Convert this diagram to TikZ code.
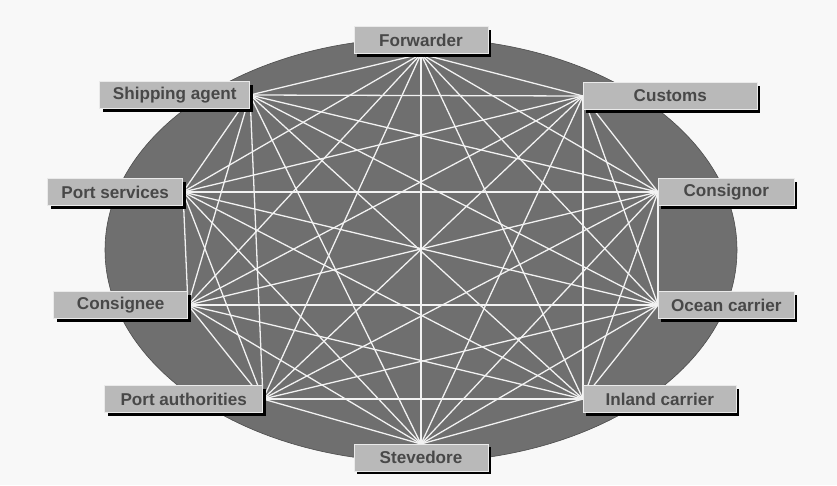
\documentclass[tikz,border=0pt]{standalone}
\usepackage{fontspec}
\setsansfont{Liberation Sans}
\usetikzlibrary{positioning,shadows}
\definecolor{bgpaper}{HTML}{F8F8F8}
\definecolor{ovalgray}{HTML}{6F6F6F}
\definecolor{boxgray}{HTML}{B9B9B9}
\definecolor{labelgray}{HTML}{484848}

\begin{document}
\begin{tikzpicture}[x=0.3mm,y=-0.3mm,
  party/.style={draw=white!70!boxgray, line width=0.5pt, fill=boxgray, text=labelgray,
    font=\sffamily\bfseries\fontsize{14.6}{16}\selectfont, minimum height=8.1mm, inner sep=0pt,
    drop shadow={shadow xshift=0.9mm, shadow yshift=-0.9mm, fill=black, opacity=1}},
  link/.style={draw=white!90!gray, line width=1.1pt}]
  % Paper and oval
  \fill[bgpaper] (0,0) rectangle (837,485);
  \useasboundingbox (0,0) rectangle (837,485);
  \filldraw[fill=ovalgray, draw=black!70, line width=0.5pt] (421,250) ellipse [x radius=94.8mm, y radius=63.6mm];
  % Meeting points on the oval
  \coordinate (fw) at (421,54);
  \coordinate (cu) at (583,96);
  \coordinate (cr) at (658,192);
  \coordinate (oc) at (658,305);
  \coordinate (ic) at (583,399);
  \coordinate (st) at (421,444);
  \coordinate (pa) at (263,399);
  \coordinate (ce) at (188,305);
  \coordinate (ps) at (183,192);
  \coordinate (sa) at (250,95);
  % Every party linked to every other one
  \foreach \a [count=\i] in {fw,cu,cr,oc,ic,st,pa,ce,ps,sa}{
    \foreach \b [count=\j] in {fw,cu,cr,oc,ic,st,pa,ce,ps,sa}{
      \ifnum\j>\i \draw[link] (\a) -- (\b); \fi
    }
  }
  % Labels
  \node[party, minimum width=40.2mm, above=0pt of fw] (forwarder) {Forwarder};
  \node[party, minimum width=52.2mm, right=0pt of cu] (customs) {Customs};
  \node[party, minimum width=40.8mm, right=0pt of cr] (consignor) {Consignor};
  \node[party, minimum width=40.8mm, right=0pt of oc] (ocean) {Ocean carrier};
  \node[party, minimum width=45.9mm, right=0pt of ic] (inland) {Inland carrier};
  \node[party, minimum width=40.2mm, below=0pt of st] (stevedore) {Stevedore};
  \node[party, minimum width=47.4mm, left=0pt of pa] (authorities) {Port authorities};
  \node[party, minimum width=40.2mm, left=0pt of ce] (consignee) {Consignee};
  \node[party, minimum width=40.5mm, left=0pt of ps] (services) {Port services};
  \node[party, minimum width=45mm, left=0pt of sa] (agent) {Shipping agent};
\end{tikzpicture}
\end{document}
